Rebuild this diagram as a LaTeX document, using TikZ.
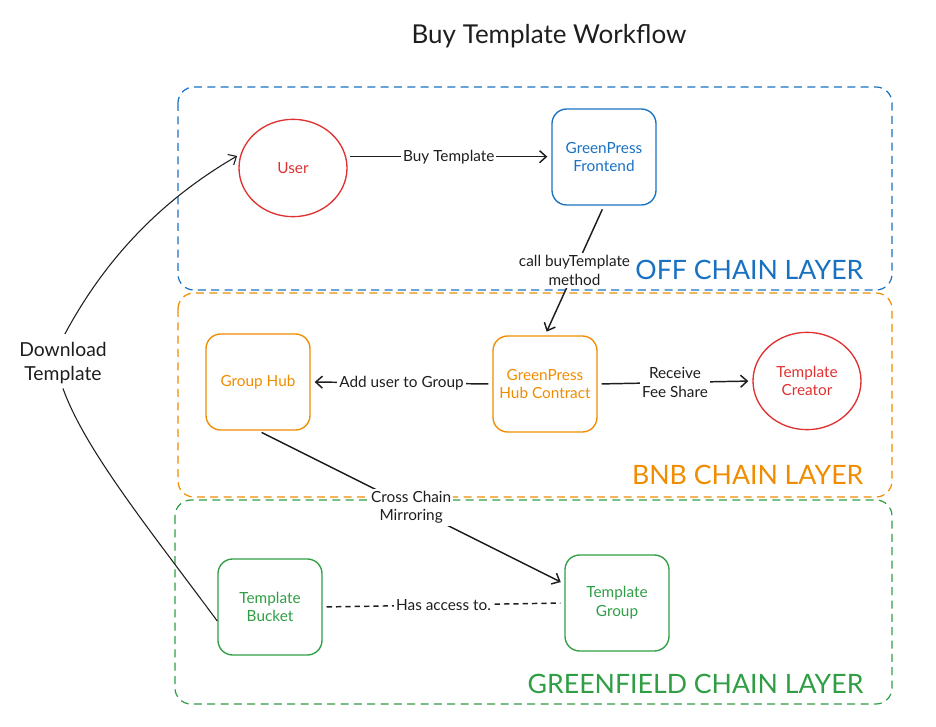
\documentclass[tikz,border=0pt]{standalone}
\usepackage{fontspec}
\setmainfont{Lato}
\usetikzlibrary{arrows.meta, positioning, shapes.geometric}

\definecolor{offblue}{HTML}{1971C2}
\definecolor{bnborange}{HTML}{F08C00}
\definecolor{gfgreen}{HTML}{2F9E44}
\definecolor{actorred}{HTML}{E03131}
\definecolor{inkgray}{HTML}{1E1E1E}

\begin{document}
\begin{tikzpicture}[x=0.75pt, y=-0.75pt,
  layer/.style={draw, dash pattern=on 6pt off 4pt, rounded corners=12pt, line width=0.9pt},
  tag/.style={anchor=east, font=\fontsize{20}{22}\selectfont},
  box/.style={draw, rounded corners=11pt, minimum width=78pt, minimum height=72pt,
    line width=1pt, align=center, font=\fontsize{11.5}{14}\selectfont},
  actor/.style={draw=actorred, text=actorred, ellipse, minimum width=81pt, minimum height=73pt,
    line width=1pt, align=center, font=\fontsize{11.5}{14}\selectfont},
  conn/.style={draw=inkgray, -{Straight Barb[length=5pt,width=9pt]}, line width=1.1pt,
    shorten >=3pt, shorten <=3pt},
  lbl/.style={fill=white, inner sep=1.5pt, align=center, text=inkgray,
    font=\fontsize{11.5}{14}\selectfont}
]
\useasboundingbox (0,0) rectangle (936,727);

% title
\node[text=inkgray, font=\fontsize{19.5}{22}\selectfont] (title) at (549,36) {Buy Template Workflow};

% layers
\draw[layer, offblue] (178,87) rectangle (892,290);
\draw[layer, bnborange] (178,293) rectangle (892,497);
\draw[layer, gfgreen] (175,500) rectangle (892,704);
\node[tag, text=offblue] (offtag) at (868,270) {OFF CHAIN LAYER};
\node[tag, text=bnborange] (bnbtag) at (868,475) {BNB CHAIN LAYER};
\node[tag, text=gfgreen] (gftag) at (868,684) {GREENFIELD CHAIN LAYER};

% nodes
\node[actor] (user) at (293,168) {User};
\node[box, draw=offblue, text=offblue] (fe) at (604,157) {GreenPress\\Frontend};
\node[box, draw=bnborange, text=bnborange] (hub) at (545,384) {GreenPress\\Hub Contract};
\node[box, draw=bnborange, text=bnborange] (gh) at (258,382) {Group Hub};
\node[actor] (tc) at (807,381) {Template\\Creator};
\node[box, draw=gfgreen, text=gfgreen] (tb) at (270,607) {Template\\Bucket};
\node[box, draw=gfgreen, text=gfgreen] (tg) at (617,603) {Template\\Group};
\node[text=inkgray, align=center, font=\fontsize{14.5}{18}\selectfont] (dl) at (63,363) {Download\\Template};

% connectors
\draw[conn] (user.12) -- (fe.west |- user.12) node[lbl, midway] {Buy Template};
\draw[conn] (fe.south) -- (hub.north) node[lbl, midway] {call buyTemplate\\method};
\draw[conn] (hub.west) -- (gh.east) node[lbl, midway] {Add user to Group};
\draw[conn] (hub.east) -- (tc.west) node[lbl, midway] {Receive\\Fee Share};
\draw[conn] (gh.south) -- (tg.160) node[lbl, midway] {Cross Chain\\Mirroring};
\draw[draw=inkgray, line width=1.1pt, dash pattern=on 4pt off 3pt, shorten >=3pt, shorten <=3pt]
  (tb.east) -- (tg.west) node[lbl, midway] {Has access to.};
\draw[draw=inkgray, line width=0.8pt] (tb.195) .. controls (150,530) and (85,450) .. (dl.south);
\draw[conn, line width=0.8pt] (dl.north) .. controls (110,250) and (170,195) .. (user.165);
\end{tikzpicture}
\end{document}
